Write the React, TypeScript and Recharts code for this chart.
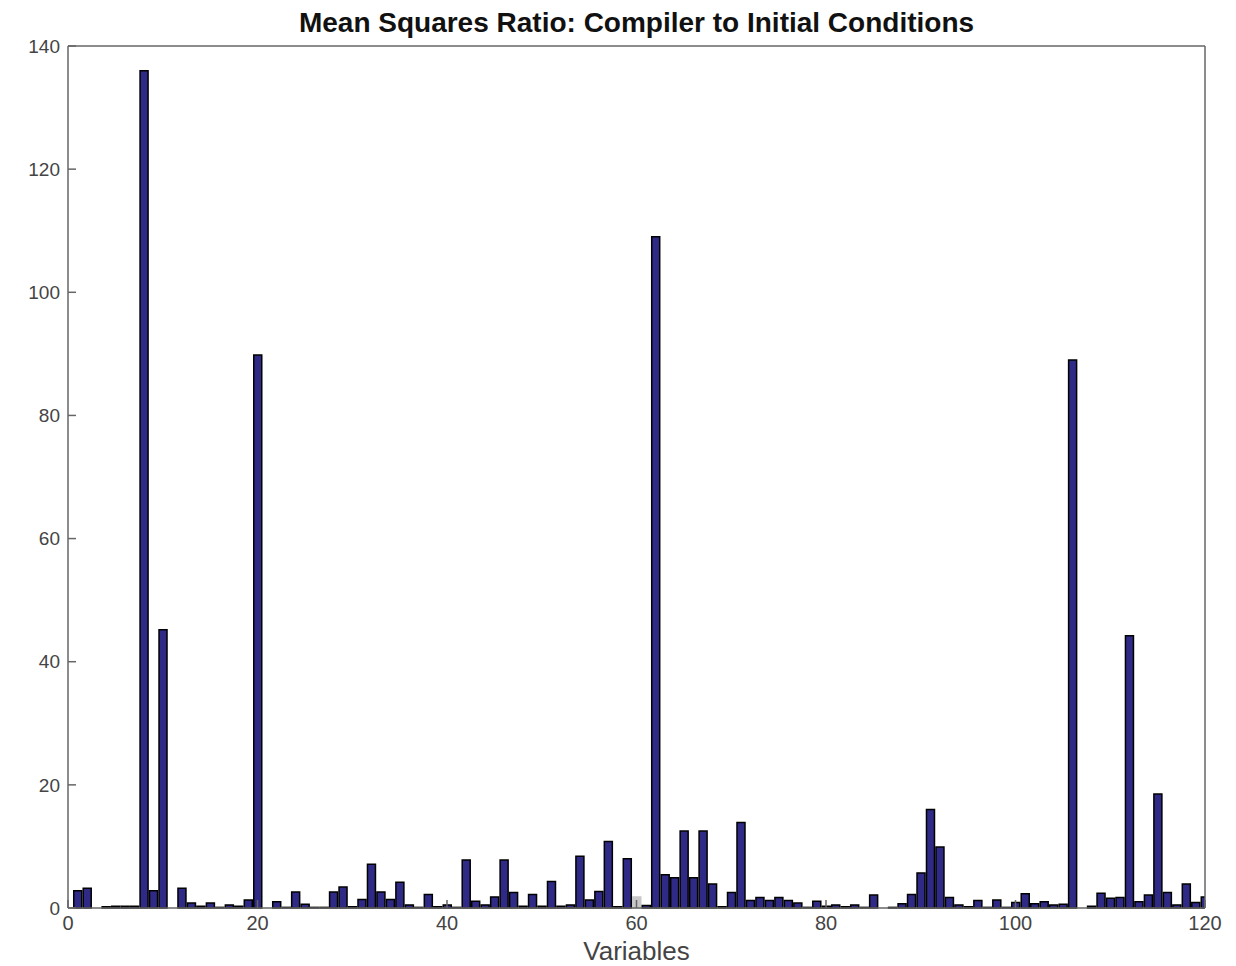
import React from "react";
import { BarChart, Bar, XAxis, YAxis, Cell } from "recharts";

// mean squares ratio per variable (1..120)
const ratios = [
  2.8, 3.2, 0, 0.2, 0.3, 0.3, 0.3, 136, 2.8, 45.2,
  0, 3.2, 0.8, 0.3, 0.8, 0.1, 0.5, 0.3, 1.3, 89.8,
  0, 1.0, 0.1, 2.6, 0.6, 0.1, 0.1, 2.6, 3.4, 0.2,
  1.4, 7.1, 2.6, 1.4, 4.2, 0.5, 0.1, 2.2, 0.2, 0.5,
  0.1, 7.8, 1.1, 0.5, 1.8, 7.8, 2.5, 0.3, 2.2, 0.3,
  4.3, 0.3, 0.5, 8.4, 1.3, 2.7, 10.8, 0.2, 8.0, 1.8,
  0.4, 109, 5.4, 4.9, 12.5, 4.9, 12.5, 3.9, 0.2, 2.5,
  13.9, 1.2, 1.7, 1.2, 1.7, 1.2, 0.8, 0.1, 1.1, 0.3,
  0.5, 0.2, 0.5, 0.1, 2.1, 0, 0.1, 0.7, 2.2, 5.7,
  16, 9.9, 1.7, 0.5, 0.2, 1.2, 0.1, 1.3, 0.1, 0.9,
  2.3, 0.7, 1.0, 0.5, 0.6, 89, 0, 0.3, 2.4, 1.6,
  1.7, 44.2, 1.0, 2.1, 18.5, 2.5, 0.5, 3.9, 0.9, 1.8,
];

// variable 60 shows up as a pale grey bar
const greyVars = [60];

const xTicks = [0, 20, 40, 60, 80, 100, 120];
const yTicks = [0, 20, 40, 60, 80, 100, 120, 140];

const data = ratios.map((v, i) => ({ variable: i + 1, ratio: v }));

const FONT = '"Liberation Sans", Arial, Helvetica, sans-serif';
const NARROW = '"Liberation Sans Narrow", "Liberation Sans", Arial, sans-serif';
const AXIS = "#666";
const TEXT = "#444";

export default function App() {
  return (
    <div style={{ position: "absolute", left: 0, top: 0, background: "#fff", fontFamily: FONT }}>
      <BarChart
        width={1236}
        height={966}
        data={data}
        margin={{ top: 45, right: 30, bottom: 57, left: 67 }}
      >
        <XAxis
          dataKey="variable"
          type="number"
          domain={[0, 120]}
          ticks={xTicks}
          allowDataOverflow
          height={1}
          stroke={AXIS}
          strokeWidth={1.5}
          tickSize={-8}
          tickMargin={16}
          tick={{ fill: TEXT, fontSize: 20, fontFamily: FONT }}
          label={{ value: "Variables", position: "bottom", offset: 33, fill: TEXT, fontSize: 26, fontFamily: FONT }}
        />
        <XAxis
          xAxisId="top"
          dataKey="variable"
          type="number"
          orientation="top"
          domain={[0, 120]}
          ticks={xTicks}
          allowDataOverflow
          height={1}
          stroke={AXIS}
          strokeWidth={1.5}
          tickSize={-8}
          tick={false}
          label={{ value: "Mean Squares Ratio: Compiler to Initial Conditions", position: "top", offset: 13, fill: "#111", fontSize: 28, fontWeight: "bold", fontFamily: FONT }}
        />
        <YAxis
          type="number"
          domain={[0, 140]}
          ticks={yTicks}
          width={1}
          stroke={AXIS}
          strokeWidth={1.5}
          tickSize={-8}
          tickMargin={16}
          tick={{ fill: TEXT, fontSize: 19, fontFamily: NARROW }}
        />
        <YAxis
          yAxisId="right"
          orientation="right"
          type="number"
          domain={[0, 140]}
          ticks={yTicks}
          width={1}
          stroke={AXIS}
          strokeWidth={1.5}
          tickSize={-8}
          tick={false}
        />
        <Bar dataKey="ratio" barSize={8} stroke="#000" strokeWidth={1.5} fill="#2e2a86" isAnimationActive={false}>
          {data.map((d) => (
            <Cell key={d.variable} fill={greyVars.includes(d.variable) ? "#c8c8c8" : "#2e2a86"} stroke={greyVars.includes(d.variable) ? "#c8c8c8" : "#000"} />
          ))}
        </Bar>
      </BarChart>
    </div>
  );
}
